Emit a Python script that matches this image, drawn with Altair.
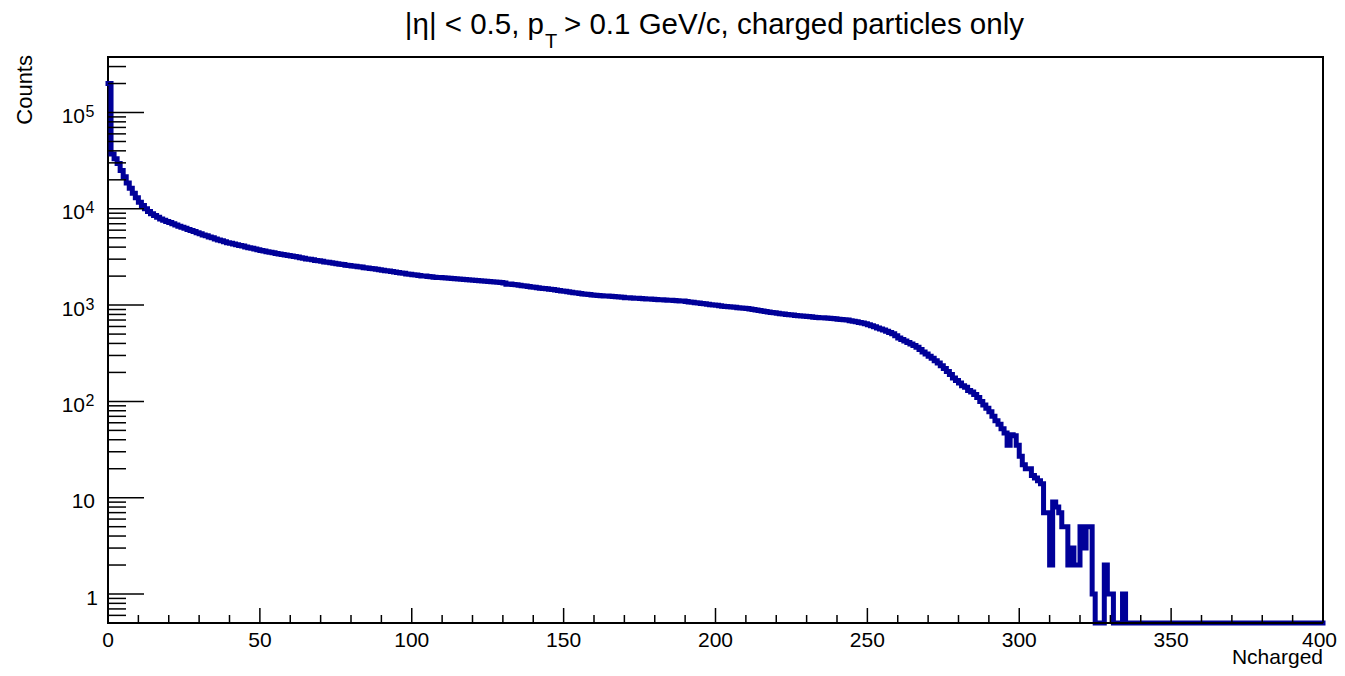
import altair as alt
import pandas as pd

# ---------------- data ----------------
# histogram: 400 bins of width 1 on [0, 400]
counts = (
    [200000, 37000, 33000, 29500, 25000, 21500, 18500, 16300, 14500, 13000]
    + [11700, 10800, 10000, 9400, 8900, 8500, 8150, 7850, 7600, 7400]
    + [7200, 7000, 6800, 6600, 6450, 6300, 6100, 5950, 5800, 5650]
    + [5500, 5350, 5250, 5100, 5000, 4850, 4750, 4650, 4550, 4450]
    + [4380, 4300, 4230, 4150, 4100, 4020, 3950, 3900, 3830, 3760]
    + [3700, 3650, 3590, 3540, 3500, 3440, 3400, 3350, 3310, 3280]
    + [3230, 3190, 3150, 3100, 3060, 3020, 2990, 2950, 2910, 2880]
    + [2850, 2810, 2780, 2750, 2720, 2690, 2660, 2640, 2600, 2580]
    + [2550, 2530, 2500, 2480, 2450, 2430, 2400, 2380, 2350, 2330]
    + [2300, 2280, 2260, 2230, 2210, 2180, 2160, 2140, 2110, 2090]
    + [2070, 2050, 2030, 2010, 2000, 1980, 1970, 1950, 1940, 1930]
    + [1920, 1910, 1900, 1890, 1880, 1870, 1860, 1840, 1830, 1820]
    + [1810, 1800, 1790, 1780, 1770, 1760, 1750, 1740, 1730, 1715]
    + [1700, 1650, 1660, 1640, 1630, 1610, 1590, 1575, 1560, 1545]
    + [1530, 1515, 1500, 1490, 1480, 1465, 1450, 1435, 1420, 1405]
    + [1390, 1375, 1360, 1345, 1335, 1320, 1305, 1295, 1285, 1275]
    + [1265, 1255, 1250, 1245, 1240, 1235, 1230, 1220, 1215, 1205]
    + [1195, 1190, 1185, 1180, 1175, 1170, 1165, 1160, 1155, 1150]
    + [1145, 1140, 1135, 1130, 1125, 1120, 1115, 1110, 1105, 1100]
    + [1090, 1080, 1070, 1060, 1050, 1040, 1030, 1020, 1010, 1000]
    + [995, 985, 975, 970, 960, 955, 950, 940, 935, 925]
    + [920, 910, 900, 890, 880, 870, 860, 850, 840, 832]
    + [825, 815, 810, 800, 795, 790, 780, 775, 770, 765]
    + [760, 755, 750, 745, 740, 738, 735, 730, 725, 720]
    + [715, 710, 705, 700, 690, 680, 670, 660, 650, 640]
    + [625, 610, 595, 580, 565, 550, 535, 520, 505, 480]
    + [455, 440, 425, 410, 395, 380, 365, 345, 325, 310]
    + [295, 280, 265, 250, 235, 220, 205, 190, 175, 165]
    + [155, 145, 140, 130, 125, 118, 110, 100, 92, 85]
    + [78, 70, 63, 58, 52, 47, 35, 45, 44, 35]
    + [27, 22, 20, 20, 17, 16, 15, 14, 7, 7]
    + [2, 9, 8, 7, 5, 5, 2, 3, 2, 2]
    + [5, 3, 5, 5, 1, 0, 0, 0, 2, 1]
    + [1, 0, 0, 0, 1, 0, 0, 0, 0, 0]
    + [0] * 60
)
bin_edges = list(range(0, 401))

x_major = [0, 50, 100, 150, 200, 250, 300, 350, 400]
x_labels = ["0", "50", "100", "150", "200", "250", "300", "350", "400"]
x_minor = [v for v in range(0, 401, 10) if v % 50 != 0]
y_major = [1, 10, 100, 1000, 10000, 100000]
y_minor = [0.5, 0.6, 0.7, 0.8, 0.9] + [m * 10 ** k for k in range(0, 6) for m in range(2, 10) if m * 10 ** k < 377000]
exp_vals = [100, 1000, 10000, 100000]
exp_text = ["2", "3", "4", "5"]

title_left = "|η| < 0.5, p"
title_sub = "T"
title_right = "> 0.1 GeV/c, charged particles only"
x_title = "Ncharged"
y_title = "Counts"

Y_MIN, Y_MAX = 0.5, 377000

# ---------------- chart ----------------
W, H = 1215, 566
FONT = "Liberation Sans"
BLUE = "#000099"

hist = pd.DataFrame({"x": bin_edges, "n": counts + [counts[-1]]})
hist["y"] = hist["n"].clip(lower=Y_MIN)

xs = alt.Scale(domain=[0, 400], nice=False, zero=False)
ys = alt.Scale(type="log", domain=[Y_MIN, Y_MAX], nice=False)

line = alt.Chart(hist).mark_line(
    interpolate="step-after", color=BLUE, strokeWidth=5,
    strokeJoin="miter", strokeCap="square"
).encode(
    x=alt.X("x:Q", scale=xs, axis=None),
    y=alt.Y("y:Q", scale=ys, axis=None),
)

def vtick(vals, length):
    return alt.Chart(pd.DataFrame({"v": vals})).mark_rule(color="black", strokeWidth=1.5).encode(
        x=alt.X("v:Q", scale=xs, axis=None), y=alt.value(H), y2=alt.value(H - length))

def htick(vals, length):
    return alt.Chart(pd.DataFrame({"v": vals})).mark_rule(color="black", strokeWidth=1.5).encode(
        y=alt.Y("v:Q", scale=ys, axis=None), x=alt.value(0), x2=alt.value(length))

def ylab(vals, texts, xpos, size, dy, align):
    return alt.Chart(pd.DataFrame({"v": vals, "t": texts})).mark_text(
        font=FONT, fontSize=size, color="black", align=align, baseline="alphabetic", dy=dy
    ).encode(y=alt.Y("v:Q", scale=ys, axis=None), x=alt.value(xpos), text="t:N")

def xlab(vals, texts, align="center", dx=0):
    return alt.Chart(pd.DataFrame({"v": vals, "t": texts})).mark_text(
        font=FONT, fontSize=21, color="black", align=align, baseline="alphabetic", dx=dx
    ).encode(x=alt.X("v:Q", scale=xs, axis=None), y=alt.value(H + 24), text="t:N")

def free_text(t, xpos, ypos, size, align, angle=0):
    return alt.Chart(pd.DataFrame({"t": [t]})).mark_text(
        font=FONT, fontSize=size, color="black", align=align, baseline="alphabetic", angle=angle
    ).encode(x=alt.value(xpos), y=alt.value(ypos), text="t:N")

frame_bottom = alt.Chart(pd.DataFrame({"a": [0]})).mark_rule(color="black", strokeWidth=2).encode(
    x=alt.value(0), x2=alt.value(W), y=alt.value(H))

chart = alt.layer(
    line,
    vtick(x_major, 15), vtick(x_minor, 8),
    htick(y_major, 36), htick(y_minor, 18),
    xlab(x_major[:-1], x_labels[:-1]),
    xlab(x_major[-1:], x_labels[-1:], align="right", dx=14),
    ylab([1], ["1"], -10, 21, 10.5, "right"),
    ylab([10], ["10"], -13, 21, 10.5, "right"),
    ylab(exp_vals, ["10"] * 4, -23, 21, 10.5, "right"),
    ylab(exp_vals, exp_text, -22.5, 16, 4.4, "left"),
    free_text(title_left, 436, -23, 29.5, "right"),
    free_text(title_sub, 437, -9.5, 20, "left"),
    free_text(title_right, 456, -23, 29.5, "left"),
    free_text(y_title, -76, -2, 22, "right", angle=270),
    free_text(x_title, W, H + 41, 21, "right"),
    frame_bottom,
).properties(
    width=W, height=H,
    padding={"left": 100, "top": 49, "right": 14, "bottom": 45},
    autosize=alt.AutoSizeParams(type="none"),
).configure(background="white").configure_view(stroke="black", strokeWidth=2)

chart.save("out.html", embed_options={"renderer": "svg", "actions": False})
